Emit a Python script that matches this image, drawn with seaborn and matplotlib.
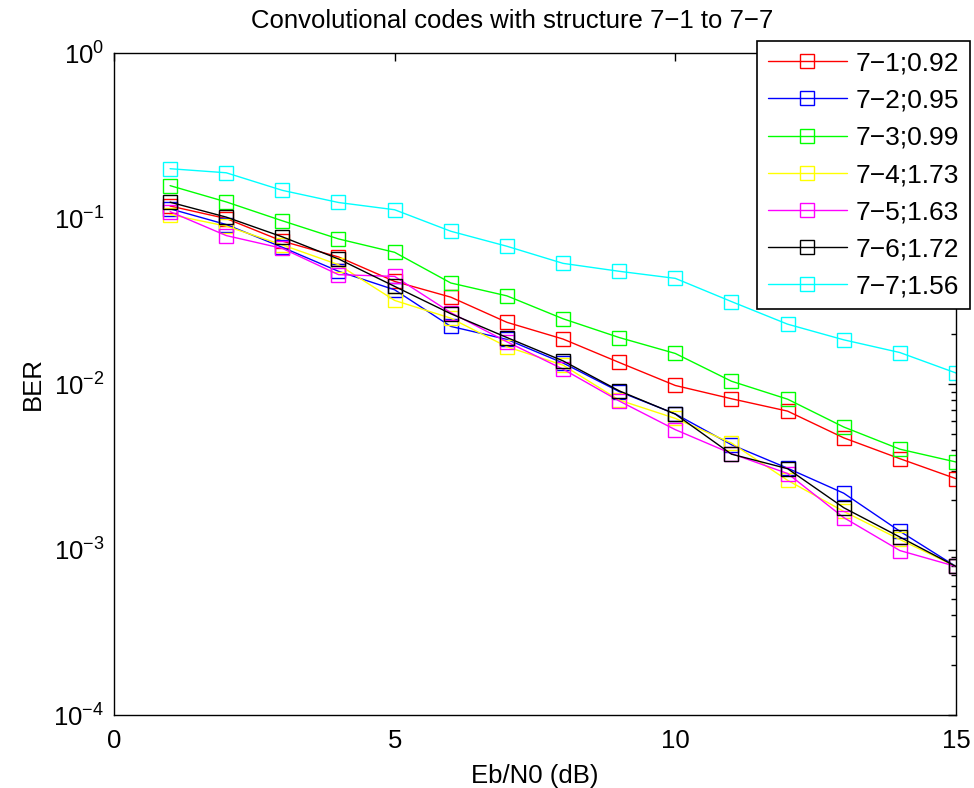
import matplotlib

matplotlib.use("Agg")

import matplotlib.pyplot as plt
import numpy as np
import seaborn as sns
from matplotlib.ticker import LogLocator, NullFormatter

# Eb/N0 points (dB)
ebn0 = list(range(1, 16))

# BER values
ber_71 = [0.119, 0.100, 0.073, 0.0586, 0.0417, 0.0335, 0.0236, 0.0187, 0.0135,
          0.0098, 0.00815, 0.00686, 0.00473, 0.00354, 0.00268]
ber_72 = [0.1145, 0.092, 0.067, 0.048, 0.0371, 0.0223, 0.0186, 0.0134, 0.0090,
          0.0066, 0.0043, 0.0031, 0.00219, 0.00129, 0.00079]
ber_73 = [0.158, 0.126, 0.0969, 0.0753, 0.0625, 0.0408, 0.0341, 0.0248, 0.0191,
          0.0153, 0.0104, 0.0081, 0.0055, 0.00404, 0.00338]
ber_74 = [0.1057, 0.090, 0.0693, 0.0526, 0.032, 0.025, 0.0168, 0.0130, 0.0080,
          0.0062, 0.0044, 0.00262, 0.0017, 0.00115, 0.00079]
ber_75 = [0.110, 0.0789, 0.066, 0.0458, 0.0447, 0.027, 0.018, 0.0123, 0.0079,
          0.0053, 0.0038, 0.00288, 0.00156, 0.000986, 0.00079]
ber_76 = [0.1255, 0.102, 0.0775, 0.057, 0.0389, 0.0266, 0.0191, 0.0138, 0.0091,
          0.00658, 0.00377, 0.00308, 0.00179, 0.00119, 0.00079]
ber_77 = [0.200, 0.189, 0.148, 0.125, 0.113, 0.0838, 0.068, 0.0536, 0.048,
          0.0435, 0.0315, 0.023, 0.0185, 0.0155, 0.01166]

labels = ["7\u22121;0.92", "7\u22122;0.95", "7\u22123;0.99", "7\u22124;1.73",
          "7\u22125;1.63", "7\u22126;1.72", "7\u22127;1.56"]
series = [ber_71, ber_72, ber_73, ber_74, ber_75, ber_76, ber_77]
colors = ["#ff0000", "#0000ff", "#00ff00", "#ffff00", "#ff00ff", "#000000", "#00ffff"]

sns.set_style("white")
plt.rcParams["font.family"] = ["Liberation Sans", "DejaVu Sans"]
plt.rcParams["mathtext.fontset"] = "custom"
plt.rcParams["mathtext.rm"] = "Liberation Sans"
plt.rcParams["font.size"] = 18.5
plt.rcParams["text.color"] = "black"
plt.rcParams["axes.labelcolor"] = "black"

fig = plt.figure(figsize=(9.74, 7.88), dpi=100)
ax = fig.add_axes([0.117, 0.0926, 0.8645, 0.8401])

for ys, lab, col in zip(series, labels, colors):
    sns.lineplot(
        x=ebn0,
        y=ys,
        ax=ax,
        color=col,
        label=lab,
        marker="s",
        markersize=9.5,
        markerfacecolor="none",
        markeredgecolor=col,
        markeredgewidth=1.0,
        linewidth=1.0,
    )

ax.set_yscale("log")
ax.set_xlim(0, 15)
ax.set_ylim(1e-4, 1)
ax.set_xticks([0, 5, 10, 15])
ax.yaxis.set_major_locator(LogLocator(base=10, numticks=10))
ax.yaxis.set_minor_locator(LogLocator(base=10, subs=np.arange(2, 10), numticks=20))
ax.yaxis.set_minor_formatter(NullFormatter())

ax.tick_params(axis="both", which="both", direction="in", top=True, right=True,
               labelsize=18.5, colors="black")
ax.tick_params(axis="x", pad=10)
ax.tick_params(axis="y", pad=7)
ax.tick_params(which="major", length=6, width=1)
ax.tick_params(which="minor", length=3.5, width=1)
for sp in ax.spines.values():
    sp.set_color("black")
    sp.set_linewidth(1.0)

ax.set_xlabel("Eb/N0 (dB)", fontsize=18.5, labelpad=8, color="black")
ax.set_ylabel("BER", fontsize=18.5, labelpad=6, color="black")
ax.set_title("Convolutional codes with structure 7\u22121 to 7\u22127",
             fontsize=18.5, pad=18, x=0.473, color="black")

leg = ax.legend(
    loc="upper right",
    bbox_to_anchor=(0.996, 0.948),
    bbox_transform=fig.transFigure,
    fontsize=19,
    frameon=True,
    fancybox=False,
    handlelength=3.0,
    handletextpad=0.35,
    labelspacing=0.5,
    borderpad=0.4,
    borderaxespad=0,
)
leg.get_frame().set_edgecolor("black")
leg.get_frame().set_linewidth(1.2)
leg.get_frame().set_alpha(1)
for t in leg.get_texts():
    t.set_color("black")

fig.savefig("out.png", dpi=100)
